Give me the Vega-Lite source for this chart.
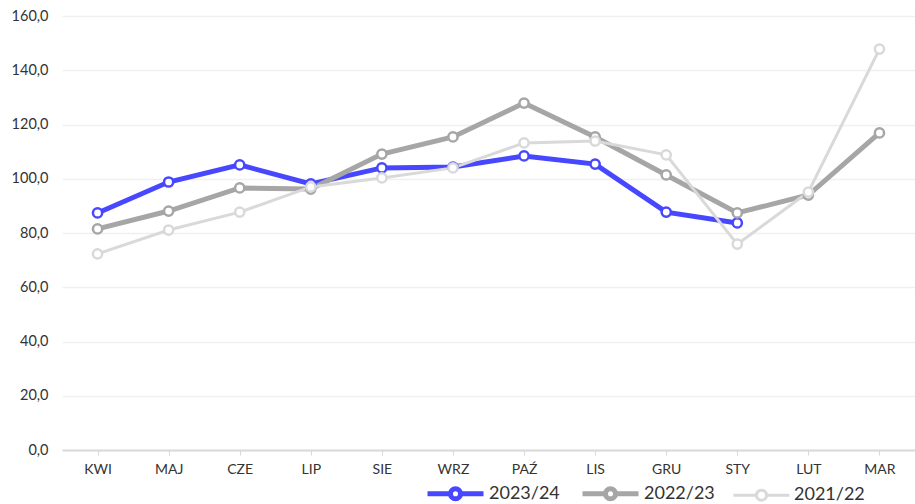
{
  "$schema": "https://vega.github.io/schema/vega-lite/v6.json",
  "width": 853,
  "height": 434,
  "autosize": {"type": "none"},
  "padding": {"left": 62, "top": 16, "right": 0, "bottom": 54},
  "background": "white",
  "config": {
    "view": {"stroke": null},
    "font": "Lato"
  },
  "data": {
    "values": [
      {"m": "KWI", "s": "2023/24", "v": 87.4},
      {"m": "MAJ", "s": "2023/24", "v": 98.8},
      {"m": "CZE", "s": "2023/24", "v": 105.1},
      {"m": "LIP", "s": "2023/24", "v": 98.1},
      {"m": "SIE", "s": "2023/24", "v": 104.0},
      {"m": "WRZ", "s": "2023/24", "v": 104.3},
      {"m": "PAŹ", "s": "2023/24", "v": 108.4},
      {"m": "LIS", "s": "2023/24", "v": 105.4},
      {"m": "GRU", "s": "2023/24", "v": 87.7},
      {"m": "STY", "s": "2023/24", "v": 83.7},
      {"m": "KWI", "s": "2022/23", "v": 81.5},
      {"m": "MAJ", "s": "2022/23", "v": 88.1},
      {"m": "CZE", "s": "2022/23", "v": 96.6},
      {"m": "LIP", "s": "2022/23", "v": 96.2},
      {"m": "SIE", "s": "2022/23", "v": 109.1},
      {"m": "WRZ", "s": "2022/23", "v": 115.4},
      {"m": "PAŹ", "s": "2022/23", "v": 127.9},
      {"m": "LIS", "s": "2022/23", "v": 115.4},
      {"m": "GRU", "s": "2022/23", "v": 101.4},
      {"m": "STY", "s": "2022/23", "v": 87.4},
      {"m": "LUT", "s": "2022/23", "v": 94.0},
      {"m": "MAR", "s": "2022/23", "v": 116.9},
      {"m": "KWI", "s": "2021/22", "v": 72.3},
      {"m": "MAJ", "s": "2021/22", "v": 81.1},
      {"m": "CZE", "s": "2021/22", "v": 87.7},
      {"m": "LIP", "s": "2021/22", "v": 97.0},
      {"m": "SIE", "s": "2021/22", "v": 100.3},
      {"m": "WRZ", "s": "2021/22", "v": 104.0},
      {"m": "PAŹ", "s": "2021/22", "v": 113.2},
      {"m": "LIS", "s": "2021/22", "v": 113.9},
      {"m": "GRU", "s": "2021/22", "v": 108.8},
      {"m": "STY", "s": "2021/22", "v": 75.9},
      {"m": "LUT", "s": "2021/22", "v": 95.1},
      {"m": "MAR", "s": "2021/22", "v": 147.8}
    ]
  },
  "encoding": {
    "x": {
      "field": "m",
      "type": "nominal",
      "sort": ["KWI","MAJ","CZE","LIP","SIE","WRZ","PAŹ","LIS","GRU","STY","LUT","MAR"],
      "scale": {"type": "point", "padding": 0.5},
      "axis": {
        "title": null,
        "labelAngle": 0,
        "labelFontSize": 14,
        "labelColor": "#333333",
        "labelPadding": 7,
        "domainColor": "#d9d9d9",
        "domainWidth": 2,
        "tickColor": "#d9d9d9",
        "tickSize": 5,
        "grid": false
      }
    },
    "y": {
      "field": "v",
      "type": "quantitative",
      "scale": {"domain": [0, 160], "nice": false},
      "axis": {
        "title": null,
        "values": [0, 20, 40, 60, 80, 100, 120, 140, 160],
        "labelExpr": "replace(format(datum.value, '.1f'), '.', ',')",
        "labelFontSize": 14.5,
        "labelColor": "#333333",
        "labelPadding": 14,
        "domain": false,
        "ticks": false,
        "gridColor": "#f0f0f0",
        "gridWidth": 1.5
      }
    },
    "stroke": {
      "field": "s",
      "type": "nominal",
      "sort": ["2023/24", "2022/23", "2021/22"],
      "scale": {"domain": ["2023/24", "2022/23", "2021/22"], "range": ["#4747ff", "#a6a6a6", "#d9d9d9"]},
      "legend": {
        "title": null,
        "orient": "none",
        "direction": "horizontal",
        "legendX": 363,
        "legendY": 447,
        "symbolType": "M-1,0L-0.18,0M0.18,0L1,0M-0.18,0A0.18,0.18 0 1,0 0.18,0A0.18,0.18 0 1,0 -0.18,0Z",
        "symbolSize": 3136,
        "symbolStrokeWidth": 4,
        "labelFontSize": 18,
        "labelColor": "#333333",
        "labelOffset": 3,
        "columnPadding": 12,
        "encode": {
          "symbols": {
            "update": {
              "fill": {"value": "white"},
              "opacity": {"value": 1},
              "strokeWidth": {"signal": "datum.value === '2021/22' ? 3 : 4.5"}
            }
          }
        }
      }
    }
  },
  "layer": [
    {
      "mark": {"type": "line"},
      "encoding": {
        "strokeWidth": {
          "field": "s",
          "type": "nominal",
          "scale": {"type": "ordinal", "domain": ["2023/24", "2022/23", "2021/22"], "range": [5, 5, 3]},
          "legend": null
        },
        "order": {"field": "s", "sort": "descending"}
      }
    },
    {"mark": {"type": "point", "filled": true, "fill": "white", "size": 85, "strokeWidth": 2.5, "opacity": 1}}
  ]
}
